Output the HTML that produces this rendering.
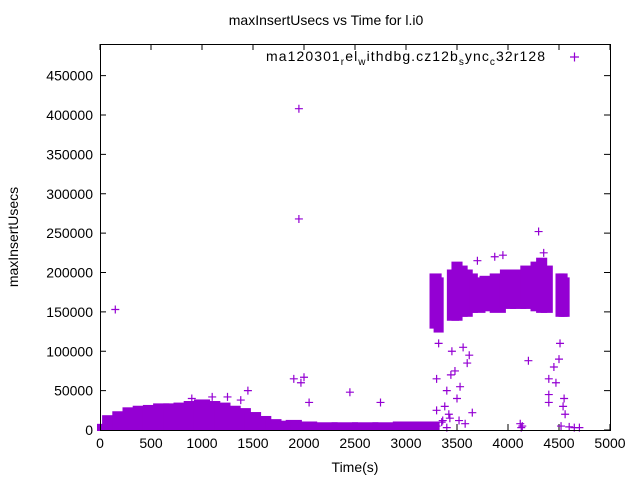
<!DOCTYPE html>
<html><head><meta charset="utf-8"><style>
body{margin:0;background:#fff;}
svg{display:block;font-family:"Liberation Sans",sans-serif;}
</style></head><body>
<svg id="chart" width="640" height="480" viewBox="0 0 640 480">
<rect width="640" height="480" fill="#fff"/>
<text x="326" y="25" font-size="14" text-anchor="middle">maxInsertUsecs vs Time for l.i0</text>
<text transform="translate(18,237) rotate(-90)" font-size="14" text-anchor="middle">maxInsertUsecs</text>
<text x="355" y="472" font-size="14" text-anchor="middle">Time(s)</text>
<g id="grid"></g>
<g id="bands"></g>
<g id="pts"></g>
<rect x="100.5" y="44.5" width="510" height="386" fill="none" stroke="#000" stroke-width="1"/>
<g>
<text x="266" y="61" font-size="14" textLength="279" lengthAdjust="spacing">ma120301<tspan font-size="10" dy="4">r</tspan><tspan dy="-4">el</tspan><tspan font-size="10" dy="4">w</tspan><tspan dy="-4">ithdbg.cz12b</tspan><tspan font-size="10" dy="4">s</tspan><tspan dy="-4">ync</tspan><tspan font-size="10" dy="4">c</tspan><tspan dy="-4">32r128</tspan></text>
<path d="M570,57h9M574.5,52.5v9" stroke="#9400d3" stroke-width="1.2"/>
</g>
</svg>
<script>
const xTicks=[0,500,1000,1500,2000,2500,3000,3500,4000,4500,5000];
const yTicks=[0,50000,100000,150000,200000,250000,300000,350000,400000,450000];
// dense clusters: time, low, high
const bandTimes=[20,100,200,300,400,500,600,700,800,900,1000,1100,1200,1300,1400,1500,1600,1700,1800,1900,2000,2200,2400,2600,2800,3000,3200,3290,3320,3460,3500,3550,3600,3650,3700,3800,3900,4000,4100,4200,4280,4330,4380,4510,4540,4560];
const bandLow=[0,0,0,0,0,0,0,0,0,0,0,0,0,0,0,0,0,0,0,0,0,0,0,0,0,0,0,130000,125000,140000,140000,145000,145000,150000,150000,152000,150000,155000,155000,155000,152000,150000,150000,145000,145000,145000];
const bandHigh=[4000,15000,20000,25000,27000,28000,30000,30000,31000,33000,35000,33000,31000,27000,24000,19000,14000,10000,8000,9000,7000,6000,6000,6000,6000,7000,7000,195000,190000,200000,210000,205000,200000,195000,190000,192000,195000,200000,200000,205000,210000,215000,205000,195000,195000,190000];
const bandWidth=[40,100,100,100,100,100,100,100,100,100,100,100,100,100,100,100,100,100,100,100,200,200,200,200,200,200,200,60,40,60,50,50,50,50,100,100,100,100,100,100,60,50,60,30,30,30];
// scattered points
const ptTimes=[150,1950,1950,1900,1970,2000,2050,1450,2450,2750,1380,1250,900,1100,4300,4200,4400,4400,4500,4510,4550,3300,3320,3400,3450,3500,3600,3560,3650,3380,3420,3300,3530,3620,3480,3700,3870,3950,4350,4450,4470,4540,4560,4400,3350,3430,3520,3580,4120,4140,4130,3300,3400,4520,4600,4650,4700,3360,3440];
const ptVals=[153000,408000,268000,65000,60000,67000,35000,50000,48000,35000,38000,42000,40000,42000,252000,88000,65000,45000,90000,110000,40000,65000,110000,50000,100000,40000,85000,105000,22000,30000,20000,25000,55000,95000,75000,215000,220000,222000,225000,80000,60000,30000,20000,35000,10000,15000,12000,8000,8000,5000,3000,5000,3000,5000,4000,3000,3000,12000,70000];
const svg=document.getElementById('chart');
const NS='http://www.w3.org/2000/svg';
function X(t){return 100+t*0.102;}
function Y(v){return 430-v*0.0007875;}
function el(tag,attrs,parent){const e=document.createElementNS(NS,tag);for(const k in attrs)e.setAttribute(k,attrs[k]);parent.appendChild(e);return e;}
const grid=document.getElementById('grid');
xTicks.forEach(t=>{
  const l=el('path',{d:`M${X(t)},430v-6M${X(t)},44v6`,stroke:'#000','stroke-width':1},grid);
  
  
  const tx=el('text',{x:X(t),y:448,'font-size':14,'text-anchor':'middle'},grid);
  tx.textContent=t;
  
  
});
yTicks.forEach(v=>{
  const l=el('path',{d:`M100,${Y(v)}h6M610,${Y(v)}h-6`,stroke:'#000','stroke-width':1},grid);
  
  
  const tx=el('text',{x:93,y:Y(v)+5,'font-size':14,'text-anchor':'end'},grid);
  tx.textContent=v;
  
  
});
const bands=document.getElementById('bands');
bandTimes.forEach((t,i)=>{
  const x0=X(t-bandWidth[i]/2)-3, x1=X(t+bandWidth[i]/2)+3;
  const r=el('rect',{x:x0,y:Y(bandHigh[i])-3,width:x1-x0,height:Y(bandLow[i])-Y(bandHigh[i])+4,fill:'#9400d3'},bands);
  
  
});
const pts=document.getElementById('pts');
ptTimes.forEach((t,i)=>{
  const x=X(t),y=Y(ptVals[i]);
  const p=el('path',{d:`M${x-4},${y}h8M${x},${y-4}v8`,stroke:'#9400d3','stroke-width':1.2},pts);
  
  
});
</script>
</body></html>
